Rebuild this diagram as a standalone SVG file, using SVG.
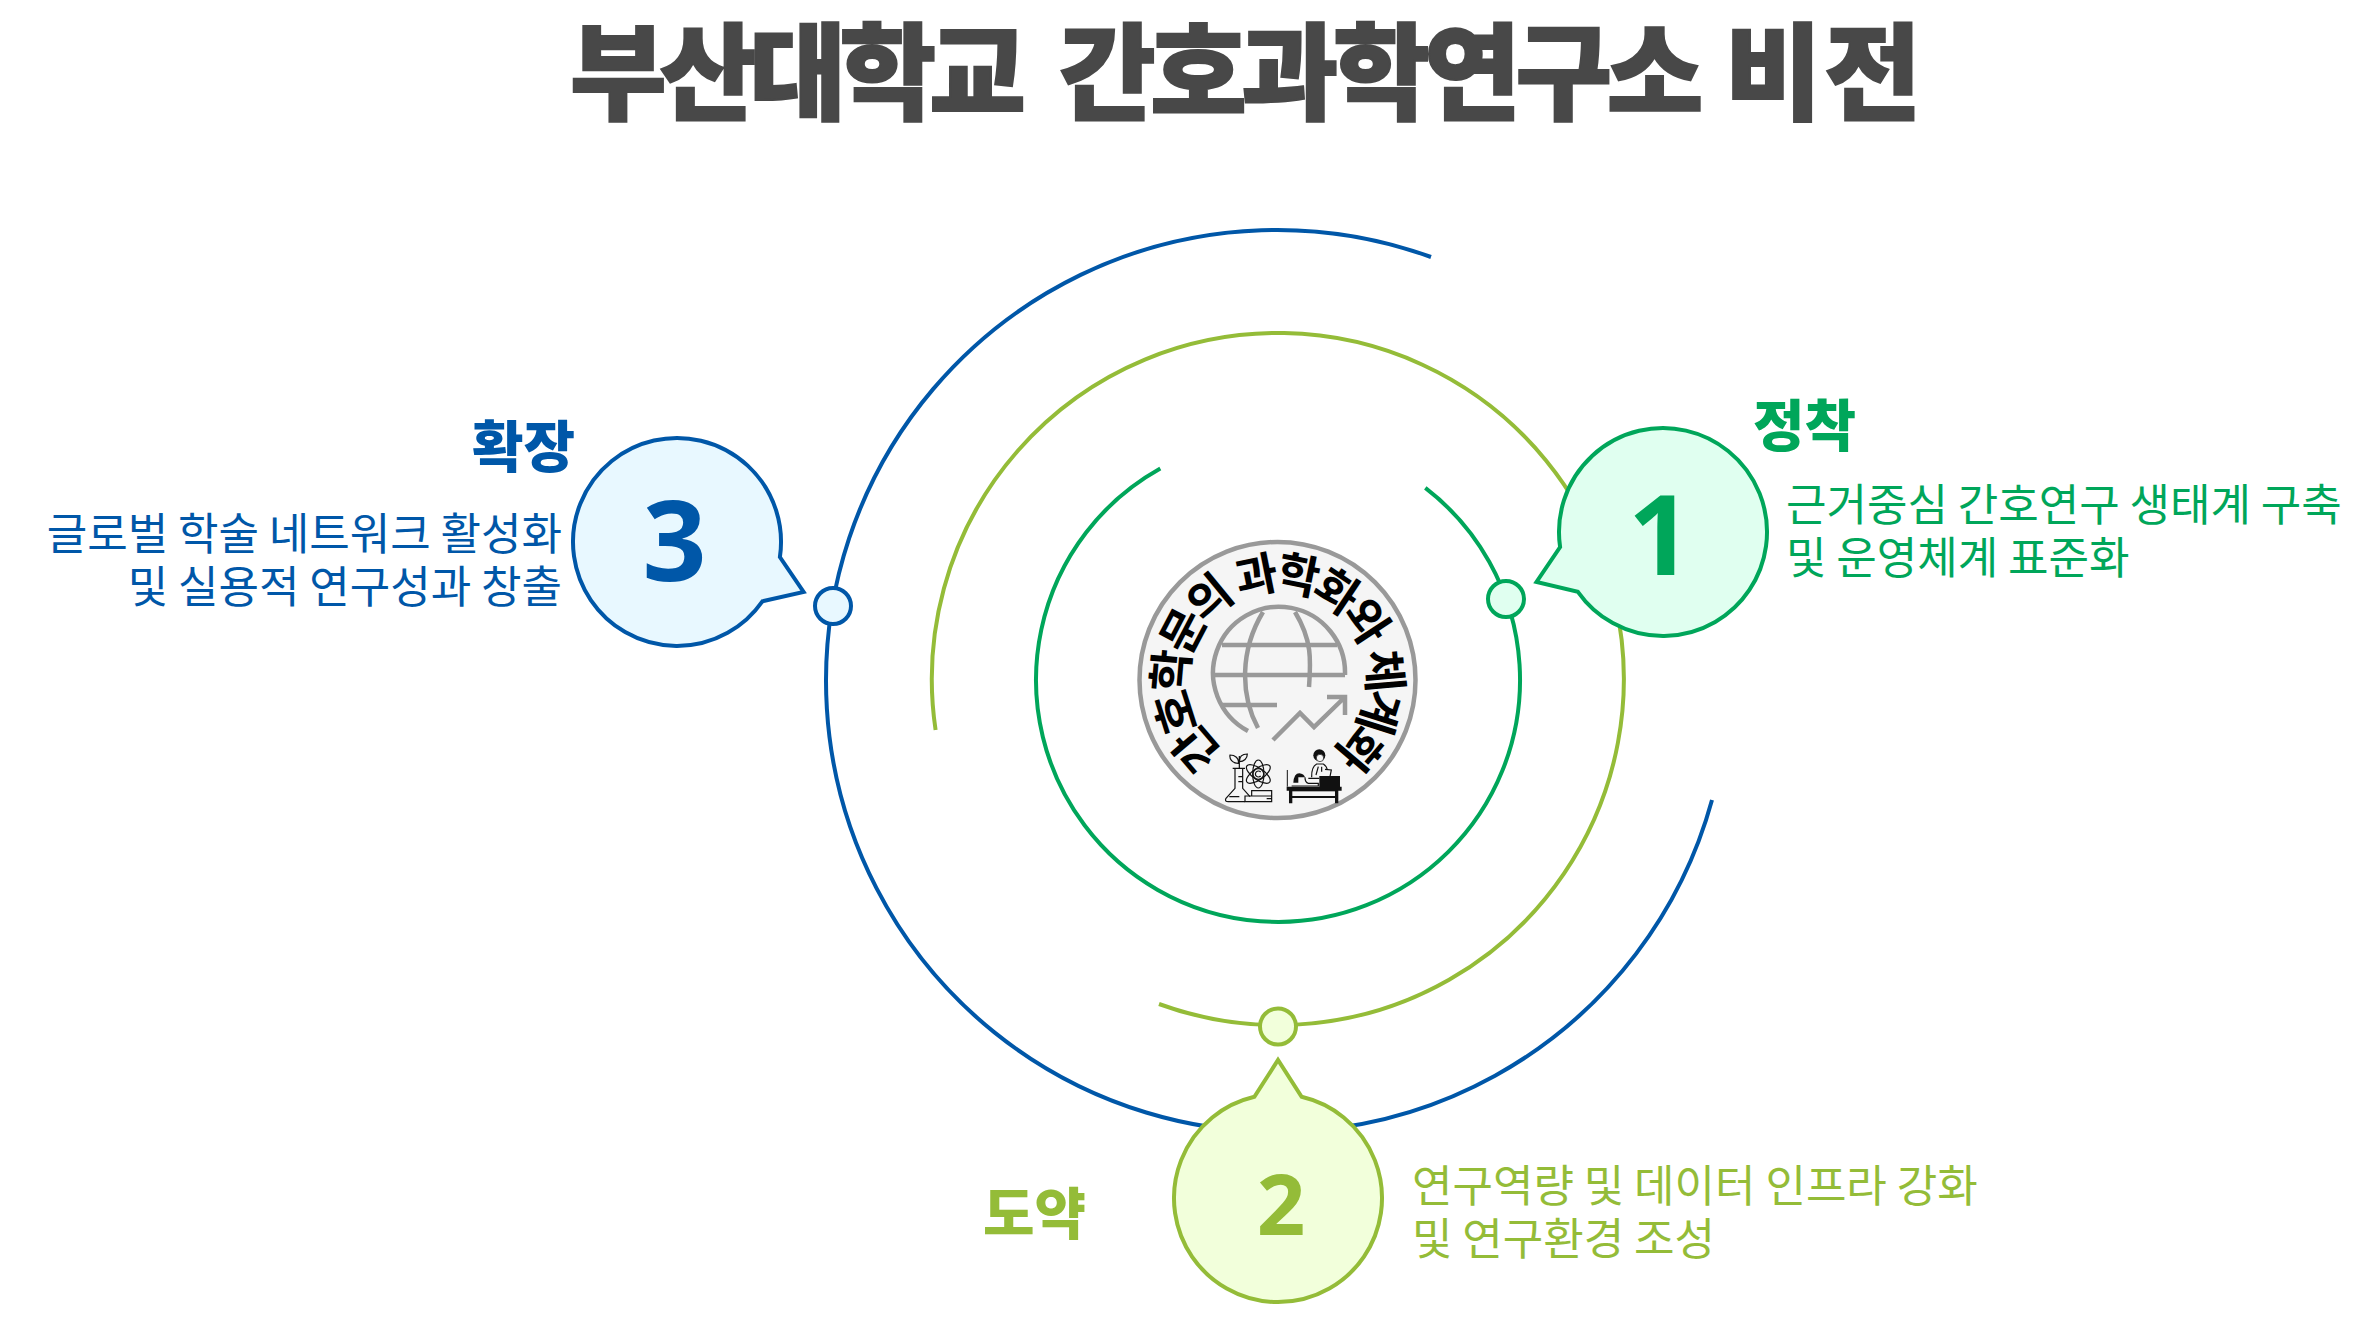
<svg xmlns="http://www.w3.org/2000/svg" width="2366" height="1339" viewBox="0 0 2366 1339">
<style>
text{font-family:"Noto Sans CJK KR","Noto Sans",sans-serif}
.title{font-size:105px;font-weight:900;fill:#484848;stroke:#484848;stroke-width:2}
.head{font-size:56px;font-weight:900}
.body{font-size:44px;font-weight:400}
.num{font-family:"Noto Sans","Open Sans",sans-serif;font-weight:700;text-anchor:middle}
.arc{fill:none;stroke-width:4}
.bl{stroke:#0057A8}.gr{stroke:#00A65A}.yg{stroke:#94BC38}
.tbl{fill:#0057A8}.tgr{fill:#00A65A}.tyg{fill:#94BC38}
.bub{stroke-width:4}
.ic{fill:none;stroke:#999;stroke-width:4.5}
.k{fill:none;stroke:#111;stroke-width:3.6}
.kf{fill:#111}
</style>
<text class="title" y="111"><tspan x="570" letter-spacing="-6.8">부산대학교 </tspan><tspan x="1059" letter-spacing="-5.3">간호과학연구소 </tspan><tspan x="1725" letter-spacing="3">비전</tspan></text>
<g id="connectors">
<path class="arc bl" d="M1431,257 A451,451 0 1 0 1712,800"/>
<path class="arc yg" d="M935.6,730 A346,346 0 1 1 1159,1004"/>
<path class="arc gr" d="M1425.3,487.9 A242,242 0 1 1 1160.3,468.5"/>
<circle class="bl" cx="833" cy="606" r="18" fill="#E8F8FF" stroke-width="4"/>
<circle class="gr" cx="1506" cy="599" r="18" fill="#E0FFF0" stroke-width="4"/>
<circle class="yg" cx="1278" cy="1026.5" r="18" fill="#F2FFDB" stroke-width="4"/>
</g>
<g id="center">
<circle cx="1277.5" cy="680" r="138" fill="#F5F5F5" stroke="#999" stroke-width="4.5"/>
<path class="ic" d="M1248,731 A66,66 0 1 1 1345,675"/>
<path class="ic" d="M1222,645H1337M1215,675H1345M1222,705H1277"/>
<path class="ic" d="M1263,612 C1240,650 1240,695 1258,728M1295,612 C1312,640 1311,660 1309,687"/>
<path class="ic" d="M1273,740 L1300,713 L1314,727 L1345,697M1327,697H1345V715"/>
<g transform="translate(1190,720) scale(.3333)">
<path class="k" d="M128,145H165M135,145V205L108,235Q103,245 115,245H165M158,145V205L180,230M148,145V108M145,130C125,130 118,115 120,105C135,105 148,115 145,130ZM148,125C148,110 158,102 172,102C172,115 162,125 148,125ZM145,170H158M145,185H158M118,230h30"/>
<g transform="translate(205,162)"><ellipse rx="42" ry="17" transform="rotate(35)" class="k"/><ellipse rx="42" ry="17" transform="rotate(-35)" class="k"/><ellipse rx="17" ry="42" class="k"/><circle r="16" class="k"/><path class="k" d="M7,-6A9,9 0 1 0 7,6"/></g>
<path class="k" d="M165,228H245V245H165ZM185,228V212H245V228M230,236H245"/>
<circle class="kf" cx="388" cy="106" r="18"/><circle cx="390" cy="114" r="11" fill="#F5F5F5" stroke="#111" stroke-width="2"/>
<path class="k" d="M365,172Q364,140 380,132L400,132Q410,138 412,150"/>
<path class="k" d="M405,148L424,150L420,170H403M385,140L378,165M395,140V155"/>
<path d="M292,150V200" stroke="#111" stroke-width="3"/>
<path class="kf" d="M388,168H450V200H455V212H445V250H435V234H307V250H297V212H290V200H388Z"/>
<rect x="307" y="214" width="128" height="14" fill="#F5F5F5"/>
<path class="kf" d="M310,188Q312,160 328,160Q342,162 345,172L325,172V188Z"/>
<path class="k" d="M305,198H385V190H355Q345,188 345,172M355,175H388"/>
</g>
<path id="ringtext" d="M1277.5,787 A107,107 0 1 1 1277.5,573 A107,107 0 1 1 1277.5,787" fill="none"/>
<text font-size="46" font-weight="700" fill="#000" text-anchor="middle" dy="17"><textPath href="#ringtext" startOffset="50%">간호학문의 과학화와 체계화</textPath></text>
</g>
<g id="node1">
<path class="bub gr" fill="#E0FFF0" d="M1560.1,547.1 A104,104 0 1 1 1577.9,591.8 L1536.5,582 Z"/>
<text class="num tgr" x="1660" y="575" font-size="112">1</text>
<text class="head tgr" x="1753" y="446">정착</text>
<text class="body tgr" x="1786" y="521">근거중심 간호연구 생태계 구축</text>
<text class="body tgr" x="1786" y="574">및 운영체계 표준화</text>
</g>
<g id="node2">
<path class="bub yg" fill="#F2FFDB" d="M1301.6,1096.8 A104,104 0 1 1 1254.4,1096.8 L1278,1060 Z"/>
<text class="num tyg" x="1281" y="1235" font-size="85">2</text>
<text class="head tyg" x="983" y="1234">도약</text>
<text class="body tyg" x="1412" y="1202">연구역량 및 데이터 인프라 강화</text>
<text class="body tyg" x="1412" y="1255">및 연구환경 조성</text>
</g>
<g id="node3">
<path class="bub bl" fill="#E8F8FF" d="M762.4,601.3 A104,104 0 1 1 779.9,557.1 L803.6,592 Z"/>
<text class="num tbl" x="674.5" y="581" font-size="112">3</text>
<text class="head tbl" x="575" y="467" text-anchor="end">확장</text>
<text class="body tbl" x="562" y="550" text-anchor="end">글로벌 학술 네트워크 활성화</text>
<text class="body tbl" x="562" y="603" text-anchor="end">및 실용적 연구성과 창출</text>
</g>
</svg>
